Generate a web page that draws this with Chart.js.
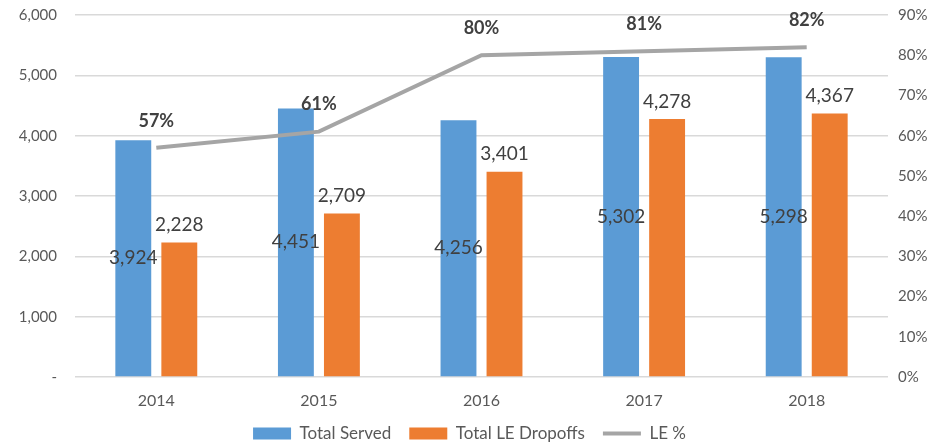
<!doctype html>
<html>
<head>
    <title>Total Served / LE Dropoffs</title>
    <script src="https://cdn.jsdelivr.net/npm/chart.js"></script>
    <style>
        body { margin: 0; background: #fff; }
    </style>
</head>
<body>
    <canvas id="grafico" width="939" height="445"></canvas>

    <script>
        var anos = ['2014', '2015', '2016', '2017', '2018'];
        var totalServed = [3924, 4451, 4256, 5302, 5298];
        var totalDropoffs = [2228, 2709, 3401, 4278, 4367];
        var lePercent = [57, 61, 80, 81, 82];

        var fonte = 'Lato, "Liberation Sans", sans-serif';
        var corTexto = '#595959';
        var corRotulo = '#404040';

        // rotulos de valor desenhados em cima das barras e da linha
        var rotulos = {
            id: 'rotulos',
            afterDatasetsDraw(chart) {
                var ctx = chart.ctx;
                ctx.save();
                ctx.fillStyle = corRotulo;
                ctx.textAlign = 'center';
                chart.data.datasets.forEach(function (ds, i) {
                    var meta = chart.getDatasetMeta(i);
                    meta.data.forEach(function (el, j) {
                        var v = ds.data[j];
                        if (i == 0) {
                            ctx.font = '19px ' + fonte;
                            ctx.textBaseline = 'middle';
                            ctx.fillText(v.toLocaleString('en-US'), el.x, (el.y + el.base) / 2);
                        } else if (i == 1) {
                            ctx.font = '19px ' + fonte;
                            ctx.textBaseline = 'bottom';
                            ctx.fillText(v.toLocaleString('en-US'), el.x, el.y - 8);
                        } else {
                            ctx.font = 'bold 18px ' + fonte;
                            ctx.textBaseline = 'middle';
                            ctx.fillText(v + '%', el.x, el.y - 27);
                        }
                    });
                });
                ctx.restore();
            }
        };

        var grafico = new Chart(document.getElementById('grafico').getContext('2d'), {
            type: 'bar',
            data: {
                labels: anos,
                datasets: [{
                    label: 'Total Served',
                    data: totalServed,
                    backgroundColor: '#5B9BD5',
                    categoryPercentage: 0.566,
                    barPercentage: 0.78,
                    yAxisID: 'y',
                    order: 1
                }, {
                    label: 'Total LE Dropoffs',
                    data: totalDropoffs,
                    backgroundColor: '#ED7D31',
                    categoryPercentage: 0.566,
                    barPercentage: 0.78,
                    yAxisID: 'y',
                    order: 1
                }, {
                    type: 'line',
                    label: 'LE %',
                    data: lePercent,
                    borderColor: '#A5A5A5',
                    backgroundColor: '#A5A5A5',
                    borderWidth: 4,
                    pointRadius: 0,
                    tension: 0,
                    yAxisID: 'y1',
                    order: 0
                }]
            },
            options: {
                responsive: false,
                animation: false,
                layout: { padding: { top: 0, left: 0, right: 0, bottom: -7 } },
                scales: {
                    x: {
                        grid: { display: false },
                        border: { display: false },
                        ticks: { color: corTexto, font: { family: fonte, size: 16 }, padding: 6 },
                        afterFit: function (scale) { scale.height = 30; }
                    },
                    y: {
                        position: 'left',
                        min: 0,
                        max: 6000,
                        // tick invisivel so para afastar os rotulos sem mexer no topo
                        grid: { color: '#d9d9d9', lineWidth: 1.5, tickLength: 12, tickColor: 'rgba(0,0,0,0)' },
                        border: { display: false },
                        ticks: {
                            stepSize: 1000,
                            color: corTexto,
                            font: { family: fonte, size: 15 },
                            padding: 6,
                            callback: function (v) { return v == 0 ? '-' : v.toLocaleString('en-US'); }
                        },
                        afterFit: function (scale) { scale.width = 75; }
                    },
                    y1: {
                        position: 'right',
                        min: 0,
                        max: 90,
                        grid: { drawOnChartArea: false, tickLength: 4, tickColor: 'rgba(0,0,0,0)' },
                        border: { display: false },
                        ticks: {
                            stepSize: 10,
                            color: corTexto,
                            font: { family: fonte, size: 15 },
                            padding: 6,
                            callback: function (v) { return v + '%'; }
                        },
                        afterFit: function (scale) { scale.width = 51; }
                    }
                },
                plugins: {
                    tooltip: { enabled: false },
                    legend: {
                        position: 'bottom',
                        labels: {
                            color: corTexto,
                            font: { family: fonte, size: 17 },
                            usePointStyle: true,
                            pointStyleWidth: 38,
                            boxHeight: 12,
                            padding: 18,
                            generateLabels: function (chart) {
                                return chart.data.datasets.map(function (ds, i) {
                                    var linha = ds.type == 'line';
                                    return {
                                        text: ds.label,
                                        fillStyle: linha ? ds.borderColor : ds.backgroundColor,
                                        strokeStyle: linha ? ds.borderColor : ds.backgroundColor,
                                        lineWidth: linha ? 4 : 0,
                                        pointStyle: linha ? 'line' : 'rect',
                                        fontColor: corTexto,
                                        datasetIndex: i
                                    };
                                });
                            }
                        }
                    }
                }
            },
            plugins: [rotulos]
        });
    </script>
</body>
</html>
